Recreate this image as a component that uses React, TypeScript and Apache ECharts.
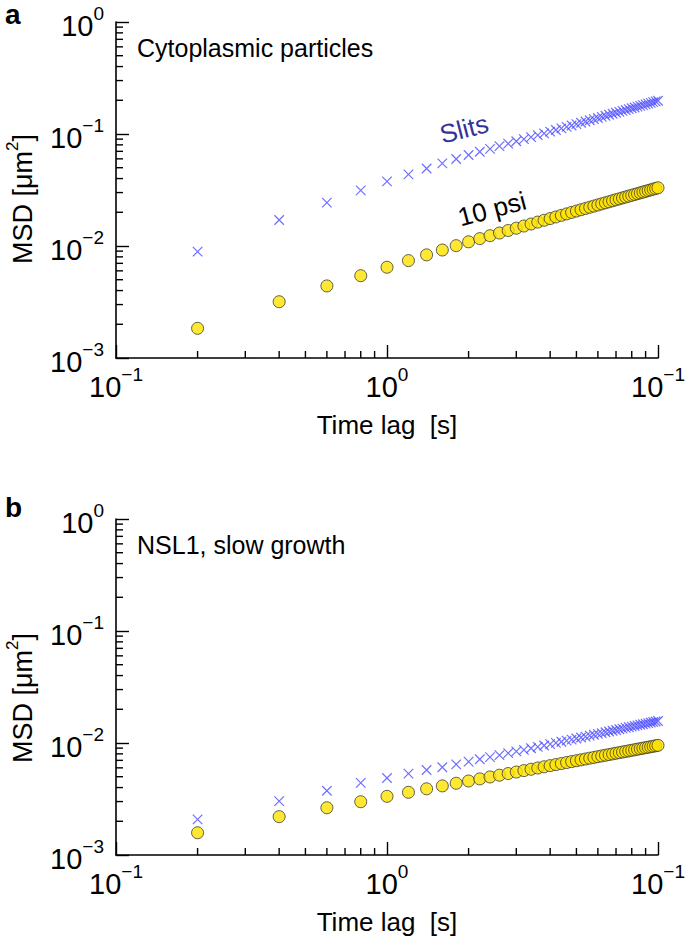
import React, { useEffect, useRef } from "react";
import * as echarts from "echarts";

const timeLag = [
  0.2, 0.4, 0.6, 0.8, 1, 1.2, 1.4, 1.6, 1.8, 2, 2.2, 2.4, 2.6, 2.8, 3, 3.2, 3.4, 3.6, 3.8, 4,
  4.2, 4.4, 4.6, 4.8, 5, 5.2, 5.4, 5.6, 5.8, 6, 6.2, 6.4, 6.6, 6.8, 7, 7.2, 7.4, 7.6, 7.8, 8,
  8.2, 8.4, 8.6, 8.8, 9, 9.2, 9.4, 9.6, 9.8, 10,
];

// Panel a: cytoplasmic particles
const slitsCyto = [
  0.0089, 0.01706, 0.0244, 0.0314, 0.0378, 0.0436, 0.0492, 0.0546, 0.0598, 0.065,
  0.06945, 0.07376, 0.07796, 0.08206, 0.08607, 0.08998, 0.09386, 0.09765, 0.1014, 0.1051,
  0.1086, 0.1122, 0.1157, 0.1192, 0.1226, 0.126, 0.1293, 0.1326, 0.1358, 0.139,
  0.1422, 0.1454, 0.1485, 0.1516, 0.1547, 0.1578, 0.1608, 0.1638, 0.1667, 0.1697,
  0.1726, 0.1755, 0.1784, 0.1813, 0.1841, 0.1869, 0.1897, 0.1925, 0.1953, 0.198,
];
const psiCyto = [
  0.00184, 0.00318, 0.0044, 0.00543, 0.00646, 0.00741, 0.00833, 0.00921, 0.01007, 0.0109,
  0.01164, 0.01236, 0.01306, 0.01375, 0.01442, 0.01508, 0.01572, 0.01635, 0.01698, 0.01758,
  0.01818, 0.01878, 0.01936, 0.01994, 0.02051, 0.02107, 0.02163, 0.02218, 0.02272, 0.02326,
  0.02379, 0.02432, 0.02484, 0.02536, 0.02587, 0.02637, 0.02688, 0.02738, 0.02787, 0.02836,
  0.02885, 0.02934, 0.02982, 0.0303, 0.03077, 0.03124, 0.03171, 0.03218, 0.03263, 0.0331,
];

// Panel b: NSL1, slow growth
const slitsNsl = [
  0.00208, 0.00303, 0.00375, 0.0044, 0.00487, 0.00532, 0.00574, 0.00607, 0.00645, 0.00681,
  0.007155, 0.007487, 0.007805, 0.008111, 0.008408, 0.008695, 0.008974, 0.009245, 0.009508, 0.009766,
  0.01002, 0.01026, 0.0105, 0.01073, 0.01097, 0.01119, 0.01141, 0.01163, 0.01185, 0.01206,
  0.01226, 0.01247, 0.01267, 0.01287, 0.01306, 0.01326, 0.01345, 0.01363, 0.01382, 0.014,
  0.01418, 0.01436, 0.01454, 0.01471, 0.01489, 0.01506, 0.01523, 0.01539, 0.01556, 0.01572,
];
const psiNsl = [
  0.00158, 0.0022, 0.00264, 0.00299, 0.00334, 0.00363, 0.0039, 0.00414, 0.00437, 0.00458,
  0.004782, 0.004975, 0.005159, 0.005337, 0.005508, 0.005671, 0.00583, 0.005984, 0.006133, 0.006279,
  0.006419, 0.006556, 0.00669, 0.006819, 0.006948, 0.007074, 0.007195, 0.007315, 0.007433, 0.007551,
  0.007663, 0.007775, 0.007885, 0.007993, 0.008099, 0.008204, 0.008307, 0.008409, 0.008508, 0.008606,
  0.008704, 0.008801, 0.008895, 0.008987, 0.009081, 0.009171, 0.009262, 0.00935, 0.009439, 0.009526,
];

// Tick labels (x exponents as printed in the figure)
const xTickExponents = ["\u22121", "0", "\u22121"];
const xMinorTicks = [0.2, 0.3, 0.4, 0.5, 0.6, 0.7, 0.8, 0.9, 2, 3, 4, 5, 6, 7, 8, 9];
const yMinorTicks = [
  0.002, 0.003, 0.004, 0.005, 0.006, 0.007, 0.008, 0.009,
  0.02, 0.03, 0.04, 0.05, 0.06, 0.07, 0.08, 0.09,
  0.2, 0.3, 0.4, 0.5, 0.6, 0.7, 0.8, 0.9,
];

const panelLetters = ["a", "b"];
const panelTitles = ["Cytoplasmic particles", "NSL1, slow growth"];
const xAxisName = "Time lag  [s]";
const yAxisName = "{t|MSD [\u03bcm}{s|2}{t|]}";

const FONT = "Liberation Sans, Arial, Helvetica, sans-serif";

export default function App() {
  const ref = useRef<HTMLDivElement>(null);

  useEffect(() => {
    document.body.style.margin = "0";
    if (!ref.current) return;
    const chart = echarts.init(ref.current, undefined, { renderer: "svg" });

    const grids = [
      { left: 116, top: 22, width: 542, height: 336, containLabel: false, outerBoundsMode: "none" },
      { left: 116, top: 519, width: 542, height: 336, containLabel: false, outerBoundsMode: "none" },
    ];

    const richLabel = {
      base: { fontSize: 29, fontFamily: FONT, color: "#000", lineHeight: 36, verticalAlign: "bottom" },
      sup: { fontSize: 19, fontFamily: FONT, color: "#000", lineHeight: 20, verticalAlign: "top" },
    };
    const richName = {
      t: { fontSize: 27, fontFamily: FONT, color: "#000", lineHeight: 32, verticalAlign: "bottom" },
      s: { fontSize: 17, fontFamily: FONT, color: "#000", lineHeight: 18, verticalAlign: "top" },
    };

    const xAxes = grids.map((_, i) => ({
      type: "log",
      logBase: 10,
      gridIndex: i,
      min: 0.1,
      max: 10,
      axisLine: { lineStyle: { color: "#000", width: 1.6 } },
      axisTick: { inside: true, length: 13, lineStyle: { color: "#000", width: 1.4 } },
      splitLine: { show: false },
      minorTick: { show: false },
      axisLabel: {
        margin: 7,
        formatter: (_v: number, idx: number) => `{base|10}{sup|${xTickExponents[idx] ?? ""}}`,
        rich: richLabel,
      },
      name: xAxisName,
      nameLocation: "middle",
      nameGap: 54,
      nameTextStyle: { fontSize: 26, fontFamily: FONT, color: "#000" },
    }));

    const yAxes = grids.map((_, i) => ({
      type: "log",
      logBase: 10,
      gridIndex: i,
      min: 0.001,
      max: 1,
      axisLine: { lineStyle: { color: "#000", width: 1.6 } },
      axisTick: { inside: true, length: 13, lineStyle: { color: "#000", width: 1.4 } },
      splitLine: { show: false },
      axisLabel: {
        margin: 12,
        formatter: (v: number) => {
          const e = Math.round(Math.log10(v));
          return `{base|10}{sup|${e < 0 ? "\u2212" + Math.abs(e) : e}}`;
        },
        rich: richLabel,
      },
    }));

    const tickSeries = (i: number) => [
      {
        type: "custom",
        xAxisIndex: i,
        yAxisIndex: i,
        silent: true,
        clip: false,
        data: xMinorTicks.map((v) => [v, 0.001]),
        renderItem: (_p: any, api: any) => {
          const p = api.coord([api.value(0), api.value(1)]);
          return {
            type: "line",
            shape: { x1: p[0], y1: p[1], x2: p[0], y2: p[1] - 7 },
            style: { stroke: "#000", lineWidth: 1.4 },
          };
        },
      },
      {
        type: "custom",
        xAxisIndex: i,
        yAxisIndex: i,
        silent: true,
        clip: false,
        data: yMinorTicks.map((v) => [0.1, v]),
        renderItem: (_p: any, api: any) => {
          const p = api.coord([api.value(0), api.value(1)]);
          return {
            type: "line",
            shape: { x1: p[0], y1: p[1], x2: p[0] + 7, y2: p[1] },
            style: { stroke: "#000", lineWidth: 1.4 },
          };
        },
      },
    ];

    const crossSeries = (i: number, vals: number[]) => ({
      type: "scatter",
      xAxisIndex: i,
      yAxisIndex: i,
      symbol: "path://M0,0L10,10M10,0L0,10",
      symbolSize: 9.5,
      itemStyle: { color: "none", borderColor: "#4b4bff", borderWidth: 1.2 },
      data: timeLag.map((t, k) => [t, vals[k]]),
      z: 3,
    });
    const circleSeries = (i: number, vals: number[]) => ({
      type: "scatter",
      xAxisIndex: i,
      yAxisIndex: i,
      symbol: "circle",
      symbolSize: 12,
      itemStyle: { color: "#ffe200", borderColor: "#3a3a2a", borderWidth: 1 },
      data: timeLag.map((t, k) => [t, vals[k]]),
      z: 4,
    });

    const txt = (x: number, y: number, text: string, extra: any = {}) => ({
      type: "text",
      x,
      y,
      rotation: extra.rotation || 0,
      style: {
        text,
        x: 0,
        y: 0,
        fontSize: extra.fontSize || 22,
        fontWeight: extra.fontWeight || "normal",
        fontFamily: FONT,
        fill: extra.fill || "#000",
        align: extra.align || "left",
        verticalAlign: extra.verticalAlign || "middle",
        rich: extra.rich,
      },
    });

    chart.setOption({
      animation: false,
      backgroundColor: "#fff",
      grid: grids,
      xAxis: xAxes,
      yAxis: yAxes,
      series: [
        ...tickSeries(0),
        ...tickSeries(1),
        crossSeries(0, slitsCyto),
        circleSeries(0, psiCyto),
        crossSeries(1, slitsNsl),
        circleSeries(1, psiNsl),
      ],
      graphic: [
        txt(5, 14, panelLetters[0], { fontSize: 28, fontWeight: "bold" }),
        txt(5, 507, panelLetters[1], { fontSize: 28, fontWeight: "bold" }),
        txt(137, 48, panelTitles[0], { fontSize: 25 }),
        txt(137, 545, panelTitles[1], { fontSize: 25 }),
        txt(464, 129, "Slits", { fontSize: 26, fill: "#333399", align: "center", rotation: 0.25 }),
        txt(492, 209, "10 psi", { fontSize: 26, align: "center", rotation: 0.26 }),
        txt(20, 199, yAxisName, { align: "center", rotation: Math.PI / 2, rich: richName }),
        txt(20, 698, yAxisName, { align: "center", rotation: Math.PI / 2, rich: richName }),
      ],
    });

    return () => chart.dispose();
  }, []);

  return <div ref={ref} style={{ width: 685, height: 946 }} />;
}
